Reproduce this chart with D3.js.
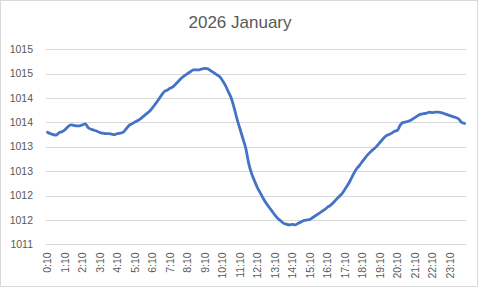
<!DOCTYPE html>
<html>
<head>
  <title>2026 January</title>
  <script src="https://d3js.org/d3.v7.min.js"></script>
  <style>
    body { margin: 0; background: #fff; }
    text { font-family: "Liberation Sans", Arial, sans-serif; fill: #595959; }
  </style>
</head>
<body>
<svg id="canvas"></svg>
<script>
// data: pressure every 10 minutes, starting 0:10
var pressure = [
  1013.30, 1013.27, 1013.25, 1013.24, 1013.29, 1013.31, 1013.35, 1013.41, 1013.45, 1013.44,
  1013.43, 1013.43, 1013.45, 1013.47, 1013.39, 1013.36, 1013.34, 1013.32, 1013.29, 1013.28,
  1013.27, 1013.27, 1013.26, 1013.25, 1013.27, 1013.28, 1013.30, 1013.37, 1013.44, 1013.47,
  1013.51, 1013.54, 1013.58, 1013.63, 1013.68, 1013.73, 1013.80, 1013.88, 1013.96, 1014.05,
  1014.13, 1014.16, 1014.20, 1014.23, 1014.29, 1014.35, 1014.41, 1014.46, 1014.50, 1014.54,
  1014.58, 1014.58, 1014.58, 1014.60, 1014.61, 1014.60, 1014.56, 1014.52, 1014.48, 1014.44,
  1014.36, 1014.26, 1014.13, 1014.00, 1013.80, 1013.57, 1013.37, 1013.17, 1012.97, 1012.66,
  1012.45, 1012.30, 1012.16, 1012.05, 1011.94, 1011.84, 1011.76, 1011.68, 1011.60, 1011.53,
  1011.48, 1011.43, 1011.41, 1011.40, 1011.41, 1011.40, 1011.43, 1011.46, 1011.49, 1011.50,
  1011.51, 1011.55, 1011.59, 1011.63, 1011.67, 1011.71, 1011.76, 1011.80, 1011.85, 1011.92,
  1011.98, 1012.04, 1012.13, 1012.22, 1012.33, 1012.45, 1012.55, 1012.62, 1012.70, 1012.78,
  1012.85, 1012.91, 1012.96, 1013.02, 1013.09, 1013.16, 1013.22, 1013.25, 1013.28, 1013.32,
  1013.34, 1013.45, 1013.50, 1013.51, 1013.53, 1013.56, 1013.60, 1013.64, 1013.67, 1013.68,
  1013.69, 1013.71, 1013.70, 1013.71, 1013.71, 1013.70, 1013.68, 1013.66, 1013.64, 1013.62,
  1013.60, 1013.57, 1013.50, 1013.48
];
var tickLabels = ["0:10","1:10","2:10","3:10","4:10","5:10","6:10","7:10","8:10","9:10","10:10","11:10",
  "12:10","13:10","14:10","15:10","16:10","17:10","18:10","19:10","20:10","21:10","22:10","23:10"];
var yTicks = [1011, 1011.5, 1012, 1012.5, 1013, 1013.5, 1014, 1014.5, 1015];

// category names for each point (10 minute steps)
var times = pressure.map(function(d, i) {
  var m = (i + 1) * 10;
  return Math.floor(m / 60) % 24 + ":" + d3.format("02")(m % 60);
});

var width = 480, height = 288;
var margin = {top: 49.3, right: 14, bottom: 43.7, left: 46};

var svg = d3.select("#canvas").attr("width", width).attr("height", height);

svg.append("rect")
  .attr("x", 0.5).attr("y", 0.5)
  .attr("width", width - 3).attr("height", height - 2)
  .attr("fill", "#fff")
  .attr("stroke", "#d9d9d9");

var x = d3.scaleBand()
  .domain(times)
  .range([margin.left, width - margin.right]);

var y = d3.scaleLinear()
  .domain([1011, 1015])
  .range([height - margin.bottom, margin.top]);

// gridlines + y labels
svg.append("g").selectAll("line")
  .data(yTicks).enter().append("line")
  .attr("x1", margin.left).attr("x2", width - margin.right)
  .attr("y1", function(d) { return Math.round(y(d)) + 0.5; })
  .attr("y2", function(d) { return Math.round(y(d)) + 0.5; })
  .attr("stroke", "#d9d9d9").attr("stroke-width", 1);

svg.append("g").selectAll("text")
  .data(yTicks).enter().append("text")
  .attr("x", 33).attr("y", function(d) { return y(d); })
  .attr("dy", "0.35em")
  .attr("text-anchor", "end")
  .style("font-size", "10.5px")
  .text(function(d) { return Math.round(d); });

// x labels, rotated
svg.append("g").selectAll("text")
  .data(tickLabels).enter().append("text")
  .attr("transform", function(d) {
    var cx = x(d) + x.bandwidth() / 2;
    return "translate(" + (cx + 3.8) + "," + (height - margin.bottom + 8) + ") rotate(-90)";
  })
  .attr("text-anchor", "end")
  .style("font-size", "10.5px")
  .text(function(d) { return d; });

// the line
var line = d3.line()
  .x(function(d, i) { return x(times[i]) + x.bandwidth() / 2; })
  .y(function(d) { return y(d); })
  .curve(d3.curveMonotoneX);

svg.append("path")
  .datum(pressure)
  .attr("d", line)
  .attr("fill", "none")
  .attr("stroke", "#4472c4")
  .attr("stroke-width", 2.8)
  .attr("stroke-linejoin", "round")
  .attr("stroke-linecap", "round");

// title
svg.append("text")
  .attr("x", 240).attr("y", 28)
  .attr("text-anchor", "middle")
  .style("font-size", "17px")
  .text("2026 January");
</script>
</body>
</html>
